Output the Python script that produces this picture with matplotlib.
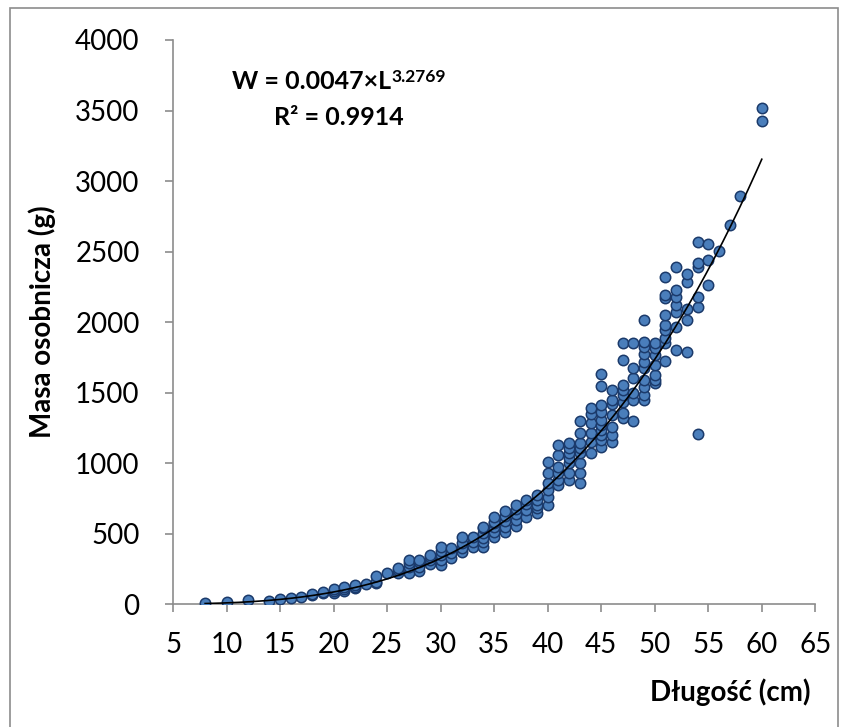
import matplotlib.pyplot as plt
import numpy as np
from matplotlib.patches import Rectangle

plt.rcParams['font.family'] = ['Lato', 'DejaVu Sans']

# długość osobnika (cm) i odpowiadająca jej masa (g)
dlugosc = [8, 10, 12, 14, 15, 16, 17, 18, 18, 19, 19,
           20, 20, 20, 21, 21, 21, 22, 22, 22, 23, 24, 24, 24, 25,
           26, 26, 26, 27, 27, 27, 27, 28, 28, 28, 28, 29, 29, 29, 29,
           30, 30, 30, 30, 30, 31, 31, 31, 32, 32, 32, 32, 33, 33, 33,
           34, 34, 34, 34, 34, 34, 35, 35, 35, 35, 35, 35,
           36, 36, 36, 36, 36, 37, 37, 37, 37, 37, 38, 38, 38, 38,
           39, 39, 39, 39, 39, 40, 40, 40, 40, 40, 40,
           41, 41, 41, 41, 41, 41, 42, 42, 42, 42, 42, 42, 42,
           43, 43, 43, 43, 43, 43, 43, 43, 44, 44, 44, 44, 44, 44,
           45, 45, 45, 45, 45, 45, 45, 45, 45, 45,
           46, 46, 46, 46, 46, 46, 46, 47, 47, 47, 47, 47, 47, 47, 47,
           48, 48, 48, 48, 48, 48,
           49, 49, 49, 49, 49, 49, 49, 49, 49, 49,
           50, 50, 50, 50, 50, 50, 50,
           51, 51, 51, 51, 51, 51, 51, 51, 51,
           52, 52, 52, 52, 52, 52, 52, 53, 53, 53, 53, 53,
           54, 54, 54, 54, 54, 54, 55, 55, 55, 56, 57, 58, 60, 60]
masa = [7, 14, 28, 21, 35, 43, 50, 62, 71, 78, 85,
        80, 95, 106, 92, 110, 120, 113, 125, 135, 142, 149, 160, 198, 220,
        220, 240, 255, 220, 262, 291, 312, 234, 262, 298, 312, 284, 310, 333, 348,
        277, 312, 348, 380, 404, 330, 362, 397, 370, 397, 433, 475, 404, 440, 475,
        404, 440, 468, 504, 539, 546, 475, 511, 546, 574, 582, 617,
        511, 546, 589, 624, 660, 553, 596, 638, 674, 702, 617, 667, 709, 738,
        645, 681, 702, 738, 773, 702, 759, 808, 858, 929, 1007,
        844, 879, 929, 972, 1057, 1128, 880, 930, 1000, 1035, 1071, 1106, 1142,
        858, 930, 1000, 1071, 1106, 1142, 1213, 1298, 1071, 1149, 1213, 1284, 1348, 1390,
        1113, 1163, 1199, 1234, 1270, 1305, 1362, 1411, 1546, 1631,
        1149, 1199, 1255, 1340, 1418, 1447, 1518, 1319, 1355, 1433, 1482, 1518, 1553, 1730, 1851,
        1298, 1447, 1496, 1603, 1674, 1851,
        1447, 1482, 1539, 1589, 1674, 1716, 1773, 1823, 1858, 2014,
        1567, 1589, 1624, 1695, 1766, 1816, 1851,
        1723, 1851, 1887, 1943, 1979, 2050, 2170, 2191, 2319,
        1801, 1965, 2071, 2120, 2177, 2227, 2390, 1787, 2014, 2092, 2284, 2340,
        1206, 2106, 2177, 2390, 2418, 2567, 2262, 2440, 2553, 2504, 2688, 2894, 3426, 3518]

# parametry zależności W = a * L^b
a = 0.0047
b = 3.2769
r2 = 0.9914

fig = plt.figure(figsize=(8.44, 7.27), dpi=100)
ax = fig.add_axes([0.205, 0.169, 0.761, 0.776])

ax.scatter(dlugosc, masa, s=56, facecolor='#4a7ebb', edgecolor='#1b3a6b',
           linewidth=1.1, zorder=3)

L = np.linspace(min(dlugosc), max(dlugosc), 200)
ax.plot(L, a * L ** b, color='black', linewidth=1.2, zorder=4)

ax.set_xlim(5, 65)
ax.set_ylim(0, 4000)
ax.set_xticks(np.arange(5, 66, 5))
ax.set_yticks(np.arange(0, 4001, 500))

for side in ['top', 'right']:
    ax.spines[side].set_visible(False)
for side in ['left', 'bottom']:
    ax.spines[side].set_color('#8c8c8c')
    ax.spines[side].set_linewidth(1.2)
ax.tick_params(direction='out', length=6, width=1.2, color='#8c8c8c',
               labelsize=20)
ax.tick_params(axis='y', pad=18)
ax.tick_params(axis='x', pad=14)

ax.set_ylabel('Masa osobnicza (g)', fontsize=20, fontweight='bold', labelpad=14)
fig.text(0.96, 0.048, 'Długość (cm)', fontsize=20, fontweight='bold',
         ha='right', va='center')

t1 = ax.text(0.092, 0.926, 'W = 0.0047×L', transform=ax.transAxes,
             fontsize=18, fontweight='bold', ha='left', va='center')
ax.annotate('3.2769', xy=(1.0, 1.05), xycoords=t1, fontsize=12.5,
            fontweight='bold', ha='left', va='top')
ax.text(0.259, 0.863, f'R² = {r2}', transform=ax.transAxes,
        fontsize=18, fontweight='bold', ha='center', va='center')

# ramka obszaru wykresu
fig.patches.append(Rectangle((10 / 844, -0.05), 828 / 844, 1.05 - 8 / 727,
                             transform=fig.transFigure, fill=False,
                             edgecolor='#8c8c8c', linewidth=1.2))

fig.savefig('out.png', dpi=100)
